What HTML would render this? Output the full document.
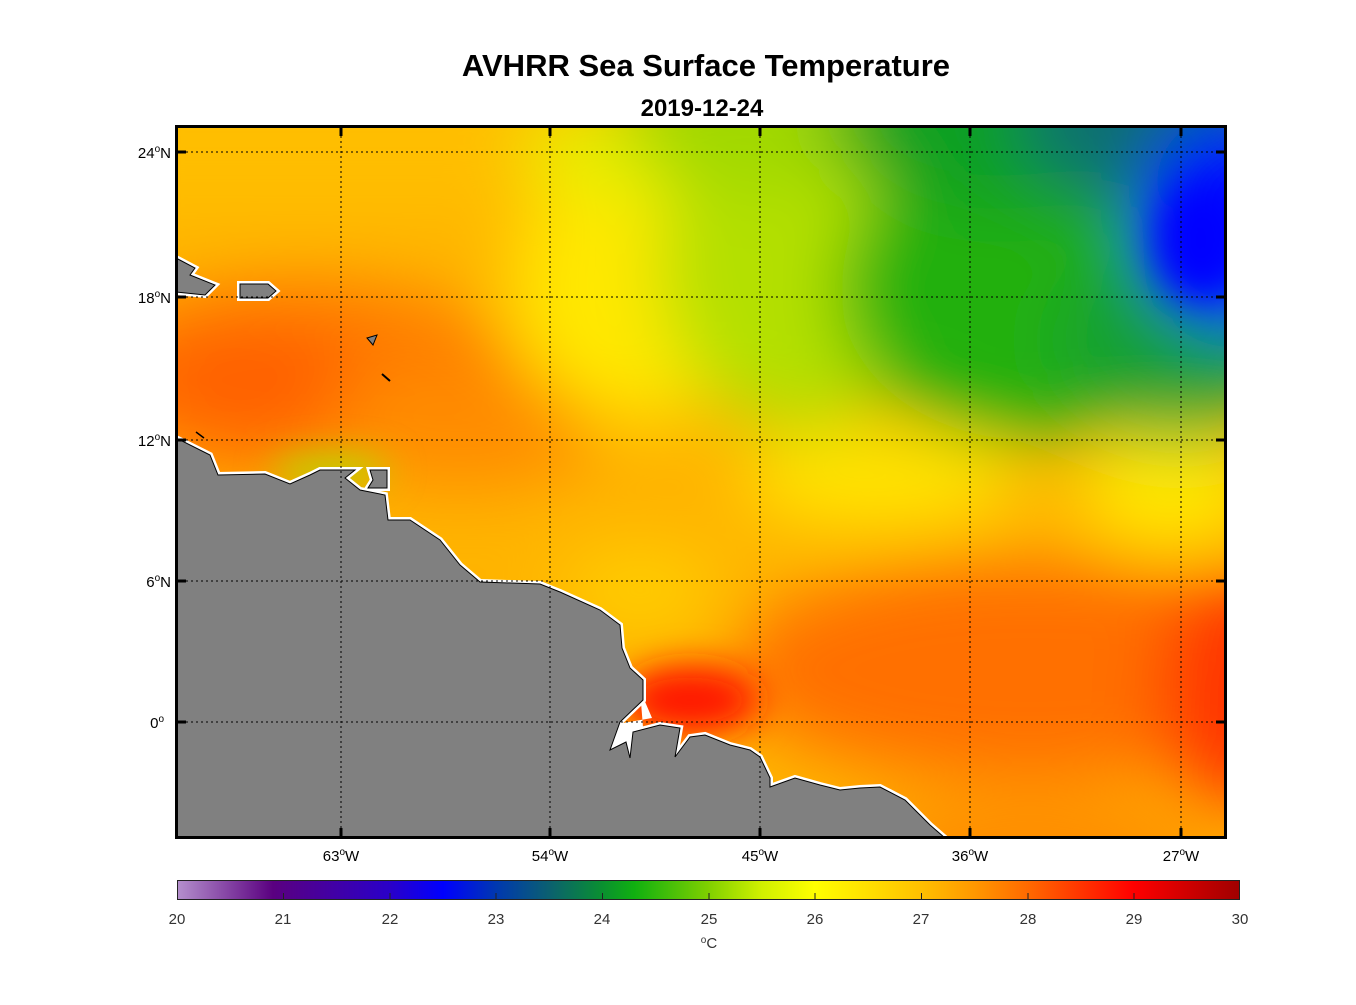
<!DOCTYPE html>
<html><head><meta charset="utf-8"><style>
body{margin:0;background:#fff;width:1356px;height:1000px;overflow:hidden;font-family:"Liberation Sans",Arial,sans-serif}
</style></head><body>
<svg width="1356" height="1000" viewBox="0 0 1356 1000" xmlns="http://www.w3.org/2000/svg">
<defs>
<filter id="b" x="-50%" y="-50%" width="200%" height="200%"><feGaussianBlur stdDeviation="35"/></filter>
<filter id="b2" x="-50%" y="-50%" width="200%" height="200%"><feGaussianBlur stdDeviation="18"/></filter>
<clipPath id="c"><rect x="176" y="126" width="1050" height="712"/></clipPath>
<linearGradient id="cb" x1="0" x2="1">
<stop offset="0" stop-color="#b48fcc"/><stop offset="0.09" stop-color="#5a0080"/>
<stop offset="0.2" stop-color="#2a00c8"/><stop offset="0.25" stop-color="#0000ff"/>
<stop offset="0.3" stop-color="#0038b0"/><stop offset="0.35" stop-color="#0b6070"/>
<stop offset="0.4" stop-color="#0a9030"/><stop offset="0.43" stop-color="#10b010"/>
<stop offset="0.5" stop-color="#80d000"/><stop offset="0.55" stop-color="#d0f000"/>
<stop offset="0.6" stop-color="#ffff00"/><stop offset="0.7" stop-color="#ffc000"/>
<stop offset="0.75" stop-color="#ff9800"/><stop offset="0.8" stop-color="#ff6a00"/>
<stop offset="0.9" stop-color="#ff0000"/><stop offset="1" stop-color="#a00000"/>
</linearGradient>
</defs>
<text x="706" y="76" text-anchor="middle" font-size="31" font-weight="bold">AVHRR Sea Surface Temperature</text>
<text x="702" y="116" text-anchor="middle" font-size="24" font-weight="bold">2019-12-24</text>
<g clip-path="url(#c)">
<rect x="176" y="126" width="1050" height="712" fill="#ffb400"/>
<g filter="url(#b)">
<rect x="100" y="60" width="450" height="160" fill="#ffbe00"/>
<ellipse cx="300" cy="380" rx="220" ry="100" fill="#ff7a00"/>
<ellipse cx="250" cy="380" rx="110" ry="55" fill="#ff5e00"/>
<ellipse cx="460" cy="430" rx="140" ry="60" fill="#ff8c00"/>
<ellipse cx="640" cy="290" rx="130" ry="130" fill="#ffe800"/>
<ellipse cx="620" cy="150" rx="100" ry="50" fill="#e8ee00"/>
<ellipse cx="880" cy="480" rx="140" ry="45" fill="#ffe800"/>
<ellipse cx="1170" cy="490" rx="90" ry="60" fill="#ffe800"/>
<ellipse cx="800" cy="260" rx="140" ry="170" fill="#b4e000"/>
<ellipse cx="760" cy="120" rx="140" ry="70" fill="#a0d800"/>
<ellipse cx="1030" cy="290" rx="190" ry="150" fill="#20b010"/>
<ellipse cx="1000" cy="120" rx="170" ry="90" fill="#10a020"/>
<ellipse cx="1180" cy="340" rx="120" ry="100" fill="#18a030"/>
<ellipse cx="1150" cy="120" rx="130" ry="90" fill="#0a7070"/>
<ellipse cx="1240" cy="220" rx="100" ry="110" fill="#0010ff"/>
<ellipse cx="1030" cy="670" rx="300" ry="110" fill="#ff7000"/>
<ellipse cx="1240" cy="690" rx="80" ry="120" fill="#ff3400"/>
<ellipse cx="1030" cy="860" rx="180" ry="60" fill="#ff8c00"/>
<ellipse cx="640" cy="590" rx="80" ry="40" fill="#ffd000"/>
</g>
<g filter="url(#b2)">
<ellipse cx="690" cy="700" rx="70" ry="35" fill="#ff1800"/>
<ellipse cx="1200" cy="240" rx="45" ry="60" fill="#0000ff"/>
<ellipse cx="330" cy="470" rx="60" ry="14" fill="#b0e000"/>
</g>
<polygon points="640,690 652,718 612,725 610,752 645,752" fill="#fff"/>
<g fill="#808080" stroke="#fff" stroke-width="6" stroke-linejoin="miter">
<polygon points="176,438 210,455 218,475 265,474 290,484 310,475 320,470 355,470 345,478 360,490 385,495 388,520 410,520 440,540 460,565 480,582 540,584 560,592 600,610 620,625 622,648 630,668 643,680 643,700 620,722 610,750 626,742 630,758 633,732 660,725 680,728 675,757 690,737 705,735 730,745 750,750 760,757 770,778 770,787 795,778 820,785 840,790 860,788 880,787 905,800 930,825 945,838 176,838"/>
<polygon points="176,258 195,268 190,275 215,285 205,295 176,292"/>
<polygon points="240,284 268,284 276,291 268,298 240,298"/>
<polygon points="370,470 387,470 387,488 368,488 373,480"/>
</g>
<g fill="#808080" stroke="#000" stroke-width="1">
<polygon points="176,438 210,455 218,475 265,474 290,484 310,475 320,470 355,470 345,478 360,490 385,495 388,520 410,520 440,540 460,565 480,582 540,584 560,592 600,610 620,625 622,648 630,668 643,680 643,700 620,722 610,750 626,742 630,758 633,732 660,725 680,728 675,757 690,737 705,735 730,745 750,750 760,757 770,778 770,787 795,778 820,785 840,790 860,788 880,787 905,800 930,825 945,838 176,838"/>
<polygon points="176,258 195,268 190,275 215,285 205,295 176,292"/>
<polygon points="240,284 268,284 276,291 268,298 240,298"/>
<polygon points="370,470 387,470 387,488 368,488 373,480"/>
<polygon points="367,338 377,335 373,345"/>
<line x1="382" y1="374" x2="390" y2="381" stroke-width="2"/>
<line x1="196" y1="432" x2="204" y2="438" stroke-width="1.5"/>
</g>
<g stroke="#000" stroke-width="1" stroke-dasharray="2,3">
<line x1="341" y1="126" x2="341" y2="838"/><line x1="550" y1="126" x2="550" y2="838"/>
<line x1="760" y1="126" x2="760" y2="838"/><line x1="970" y1="126" x2="970" y2="838"/>
<line x1="1181" y1="126" x2="1181" y2="838"/>
<line x1="176" y1="152" x2="1226" y2="152"/><line x1="176" y1="297" x2="1226" y2="297"/>
<line x1="176" y1="440" x2="1226" y2="440"/><line x1="176" y1="581" x2="1226" y2="581"/>
<line x1="176" y1="722" x2="1226" y2="722"/>
</g>
</g>
<rect x="176.5" y="126.5" width="1049" height="711" fill="none" stroke="#000" stroke-width="3"/>
<g stroke="#000" stroke-width="3">
<path d="M341,838v-10M550,838v-10M760,838v-10M970,838v-10M1181,838v-10M341,126v10M550,126v10M760,126v10M970,126v10M1181,126v10"/>
<path d="M176,152h10M176,297h10M176,440h10M176,581h10M176,722h10M1226,152h-10M1226,297h-10M1226,440h-10M1226,581h-10M1226,722h-10"/>
</g>
<g font-size="15" fill="#000">
<text x="341" y="861" text-anchor="middle">63<tspan dy="-6" font-size="10">o</tspan><tspan dy="6">W</tspan></text>
<text x="550" y="861" text-anchor="middle">54<tspan dy="-6" font-size="10">o</tspan><tspan dy="6">W</tspan></text>
<text x="760" y="861" text-anchor="middle">45<tspan dy="-6" font-size="10">o</tspan><tspan dy="6">W</tspan></text>
<text x="970" y="861" text-anchor="middle">36<tspan dy="-6" font-size="10">o</tspan><tspan dy="6">W</tspan></text>
<text x="1181" y="861" text-anchor="middle">27<tspan dy="-6" font-size="10">o</tspan><tspan dy="6">W</tspan></text>
<text x="171" y="158" text-anchor="end">24<tspan dy="-6" font-size="10">o</tspan><tspan dy="6">N</tspan></text>
<text x="171" y="303" text-anchor="end">18<tspan dy="-6" font-size="10">o</tspan><tspan dy="6">N</tspan></text>
<text x="171" y="446" text-anchor="end">12<tspan dy="-6" font-size="10">o</tspan><tspan dy="6">N</tspan></text>
<text x="171" y="587" text-anchor="end">6<tspan dy="-6" font-size="10">o</tspan><tspan dy="6">N</tspan></text>
<text x="164" y="728" text-anchor="end">0<tspan dy="-6" font-size="10">o</tspan></text>
</g>
<rect x="177.5" y="880.5" width="1062" height="19" fill="url(#cb)" stroke="#222" stroke-width="1"/>
<g stroke="#222" stroke-width="1">
<path d="M283.5,899v-6M390,899v-6M496,899v-6M602.5,899v-6M709,899v-6M815,899v-6M921.5,899v-6M1028,899v-6M1134,899v-6"/>
</g>
<g font-size="15" fill="#333" text-anchor="middle">
<text x="177" y="924">20</text><text x="283" y="924">21</text><text x="390" y="924">22</text>
<text x="496" y="924">23</text><text x="602" y="924">24</text><text x="709" y="924">25</text>
<text x="815" y="924">26</text><text x="921" y="924">27</text><text x="1028" y="924">28</text>
<text x="1134" y="924">29</text><text x="1240" y="924">30</text>
<text x="709" y="948"><tspan dy="-5" font-size="10">o</tspan><tspan dy="5">C</tspan></text>
</g>
</svg>
</body></html>
